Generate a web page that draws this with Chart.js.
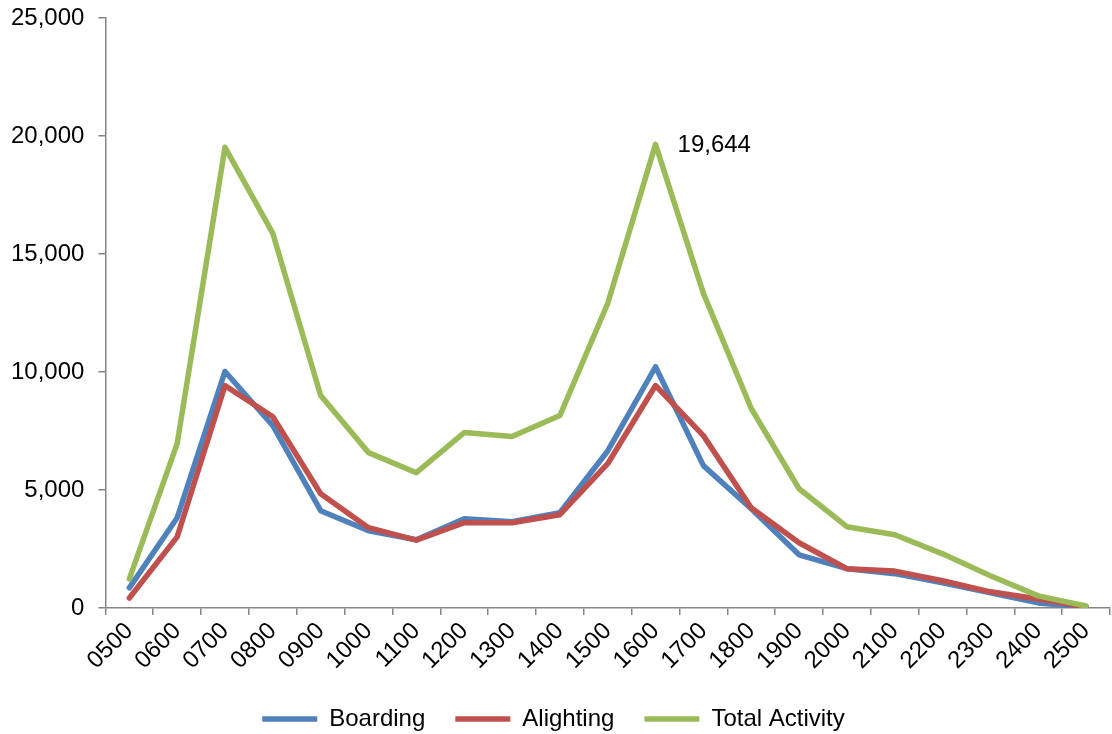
<!DOCTYPE html>
<html>
<head>
<meta charset="utf-8">
<script src="https://cdn.jsdelivr.net/npm/chart.js@4/dist/chart.umd.min.js"></script>
<style>
  html, body { margin: 0; padding: 0; background: #fff; }
  #wrap { width: 1112px; height: 734px; }
</style>
</head>
<body>
<div id="wrap"><canvas id="cvs"></canvas></div>
<script>
var hours = ['0500','0600','0700','0800','0900','1000','1100','1200','1300','1400','1500',
             '1600','1700','1800','1900','2000','2100','2200','2300','2400','2500']
var boarding = [850, 3820, 10020, 7720, 4120, 3270, 2890, 3780, 3650, 4030, 6650,
                10220, 6030, 4200, 2250, 1660, 1450, 1060, 640, 210, 30]
var alighting = [420, 3010, 9420, 8100, 4840, 3400, 2870, 3610, 3610, 3950, 6110,
                 9424, 7300, 4240, 2760, 1660, 1560, 1150, 680, 380, 40]
var total = [1230, 6960, 19520, 15870, 9000, 6580, 5730, 7430, 7260, 8150, 12900,
             19644, 13330, 8450, 5050, 3440, 3100, 2290, 1360, 510, 80]
var yTicks = [0, 5000, 10000, 15000, 20000, 25000]
var labelIndex = 11 // 1600 peak gets a data label

var axisGrey = '#868686'
var fontFam = '"Liberation Sans", Arial, sans-serif'

// draws the single value label next to the peak point
var peakLabel = {
	id: 'peakLabel',
	afterDatasetsDraw: function(chart){
		var meta = chart.getDatasetMeta(2)
		var pt = meta.data[labelIndex]
		var ctx = chart.ctx
		ctx.save()
		ctx.font = '24px ' + fontFam
		ctx.fillStyle = '#000'
		ctx.textAlign = 'left'
		ctx.textBaseline = 'middle'
		ctx.fillText(total[labelIndex].toLocaleString('en-US'), pt.x + 22, pt.y + 1)
		ctx.restore()
	}
}

Chart.defaults.font.family = fontFam
Chart.defaults.font.size = 24
Chart.defaults.color = '#000'

var ctx = document.getElementById('cvs').getContext('2d')
var chart = new Chart(ctx, {
	type: 'line',
	data: {
		labels: hours,
		datasets: [{
			label: 'Boarding',
			data: boarding,
			borderColor: '#4F81BD',
			backgroundColor: '#4F81BD',
			order: 3
		}, {
			label: 'Alighting',
			data: alighting,
			borderColor: '#C0504D',
			backgroundColor: '#C0504D',
			order: 2
		}, {
			label: 'Total Activity',
			data: total,
			borderColor: '#9BBB59',
			backgroundColor: '#9BBB59',
			order: 1
		}]
	},
	options: {
		responsive: true,
		maintainAspectRatio: false,
		animation: false,
		elements: {
			line: { borderWidth: 5.5, tension: 0, borderJoinStyle: 'round', borderCapStyle: 'round' },
			point: { radius: 0, hoverRadius: 0, borderWidth: 5.5 }
		},
		layout: { padding: { left: -3, right: 2, top: 18, bottom: -7 } },
		scales: {
			x: {
				offset: true,
				afterFit: function(axis){ axis.paddingLeft = 0 },
				grid: { offset: true, drawOnChartArea: false, drawTicks: true, tickLength: 7, color: axisGrey, lineWidth: 1.5 },
				border: { color: axisGrey, width: 1.5 },
				ticks: { autoSkip: false, maxRotation: 45, minRotation: 45, padding: 2 }
			},
			y: {
				min: 0,
				max: 25000,
				afterBuildTicks: function(axis){
					axis.ticks = yTicks.map(function(v){ return { value: v } })
				},
				afterFit: function(axis){ axis.paddingTop = 0 },
				grid: { drawOnChartArea: false, drawTicks: true, tickLength: 7, color: axisGrey, lineWidth: 1.5 },
				border: { color: axisGrey, width: 1.5 },
				ticks: {
					padding: 14,
					callback: function(v){ return Number(v).toLocaleString('en-US') }
				}
			}
		},
		plugins: {
			tooltip: { enabled: false },
			legend: {
				position: 'bottom',
				labels: {
					usePointStyle: true,
					pointStyle: 'line',
					pointStyleWidth: 55,
					boxHeight: 6,
					padding: 30,
					sort: function(a, b){ return a.datasetIndex - b.datasetIndex }
				}
			}
		}
	},
	plugins: [peakLabel]
})
</script>
</body>
</html>
